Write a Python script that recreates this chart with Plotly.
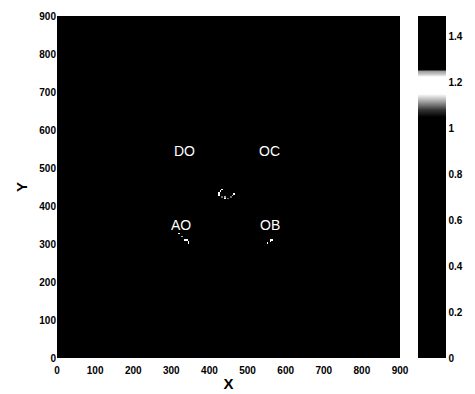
import numpy as np
import plotly.graph_objects as go

# Grid of the map (X, Y in 0..900)
grid_step = 4
x_max = 900
y_max = 900

# Small bright traces visible in the map (X, Y, value)
speck_x = [432, 428, 424, 422, 426, 430, 434, 438, 442, 446, 450, 454, 458, 460, 462,
           318, 326, 330, 336, 340, 344, 346,
           554, 558, 562, 565]
speck_y = [444, 440, 436, 432, 428, 426, 424, 422, 420, 420, 420, 422, 424, 428, 430,
           330, 322, 318, 314, 310, 308, 305,
           306, 309, 312, 314]
speck_v = [1.18, 1.15, 1.2, 1.18, 1.16, 1.12, 1.1, 1.12, 1.15, 1.12, 1.1, 1.12, 1.1, 1.12, 1.15,
           1.18, 1.1, 1.12, 1.15, 1.18, 1.2, 1.18,
           1.15, 1.18, 1.2, 1.16]

# Region labels
label_text = ["DO", "OC", "AO", "OB"]
label_x = [335, 558, 325, 558]
label_y = [546, 546, 351, 351]

x_ticks = [0, 100, 200, 300, 400, 500, 600, 700, 800, 900]
y_ticks = [0, 100, 200, 300, 400, 500, 600, 700, 800, 900]
cbar_ticks = [0, 0.2, 0.4, 0.6, 0.8, 1, 1.2, 1.4]
z_min, z_max = 0, 1.49

nx = x_max // grid_step + 1
ny = y_max // grid_step + 1
z = np.zeros((ny, nx))
for sx, sy, sv in zip(speck_x, speck_y, speck_v):
    z[int(round(sy / grid_step)), int(round(sx / grid_step))] = sv
xs = np.arange(nx) * grid_step
ys = np.arange(ny) * grid_step


def f(v):
    return v / z_max

colorscale = [
    [0, "#000000"],
    [f(1.05), "#000000"],
    [f(1.08), "#333333"],
    [f(1.12), "#aaaaaa"],
    [f(1.15), "#ffffff"],
    [f(1.225), "#ffffff"],
    [f(1.235), "#cccccc"],
    [f(1.25), "#999999"],
    [f(1.255), "#000000"],
    [1, "#000000"],
]

tick_font = dict(family="Arial", size=10, color="black", weight="bold")
title_font = dict(family="Arial", size=15, color="black", weight="bold")

fig = go.Figure()
fig.add_trace(go.Heatmap(
    x=xs, y=ys, z=z, zmin=z_min, zmax=z_max,
    colorscale=colorscale,
    colorbar=dict(
        x=1.052, xanchor="left", xref="paper", xpad=0, ypad=0,
        y=0.5, yanchor="middle", len=1, lenmode="fraction",
        thickness=28, outlinewidth=0,
        tickvals=cbar_ticks, ticks="", ticklen=0,
        tickfont=tick_font,
    ),
    hoverinfo="skip",
))

for t, lx, ly in zip(label_text, label_x, label_y):
    fig.add_annotation(x=lx, y=ly, text=t, showarrow=False,
                       font=dict(family="Arial", size=14, color="white"))

fig.update_xaxes(range=[0, 900], tickvals=x_ticks, showgrid=False, zeroline=False,
                 ticks="", showline=False, automargin=False, ticklabelstandoff=5,
                 tickfont=tick_font,
                 title=dict(text="X", font=title_font, standoff=3))
fig.update_yaxes(range=[0, 900], tickvals=y_ticks, showgrid=False, zeroline=False,
                 ticks="", showline=False, automargin=False,
                 tickfont=tick_font,
                 title=dict(text="Y", font=title_font, standoff=8))

fig.update_layout(
    width=475, height=394,
    margin=dict(l=57, r=75, t=16, b=36, autoexpand=False),
    paper_bgcolor="white", plot_bgcolor="black",
    showlegend=False,
)

fig.write_html("out.html", config={"displayModeBar": False, "staticPlot": True})

# remove the browser's default page margin so the figure sits at the top-left corner
with open("out.html", "r", encoding="utf-8") as fh:
    html = fh.read()
html = html.replace("<head>", "<head><style>html,body{margin:0;padding:0;overflow:hidden;}</style>", 1)
with open("out.html", "w", encoding="utf-8") as fh:
    fh.write(html)
